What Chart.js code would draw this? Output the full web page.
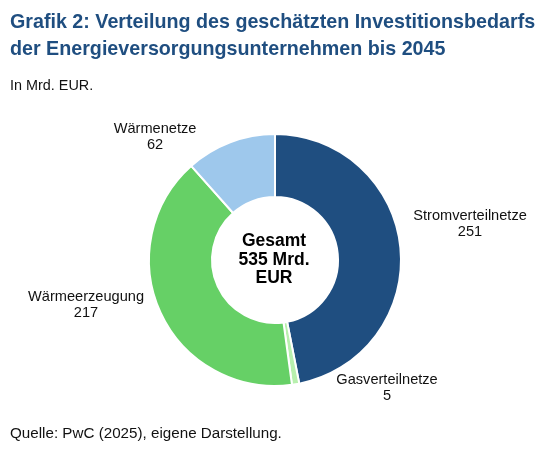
<!DOCTYPE html>
<html>
<head>
<meta charset="utf-8">
<script src="https://cdn.jsdelivr.net/npm/chart.js@4"></script>
<style>
  body { margin: 0; background: #fff; font-family: "Liberation Sans", Arial, sans-serif; }
  #wrap { position: relative; width: 548px; height: 453px; }
  #titel { position: absolute; left: 10px; top: 8px; font-size: 19.7px; font-weight: bold; color: #1f4e80; line-height: 27px; white-space: nowrap; }
  #einheit { position: absolute; left: 10px; top: 77px; font-size: 14.4px; color: #111; }
  #quelle { position: absolute; left: 10px; top: 424px; font-size: 15.2px; color: #111; white-space: nowrap; }
  canvas { position: absolute; left: 0; top: 0; }
</style>
</head>
<body>
<div id="wrap">
  <canvas id="investitionen" width="548" height="453"></canvas>
  <div id="titel">Grafik 2: Verteilung des geschätzten Investitionsbedarfs<br>der Energieversorgungsunternehmen bis 2045</div>
  <div id="einheit">In Mrd. EUR.</div>
  <div id="quelle">Quelle: PwC (2025), eigene Darstellung.</div>
</div>
<script>
// Daten (Mrd. EUR)
const kategorien = ['Stromverteilnetze', 'Gasverteilnetze', 'Wärmeerzeugung', 'Wärmenetze'];
const werte = [251, 5, 217, 62];
const farben = ['#1f4e80', '#b8f0ae', '#66d066', '#9ec8ec'];
const mitteText = ['Gesamt', '535 Mrd.', 'EUR'];

// Position der Beschriftungen relativ zur Mitte, in Radien
const labelOffsets = [[1.548, -0.286], [0.889, 1.012], [-1.50, 0.353], [-0.952, -0.980]];

// Plugin: Beschriftungen aussen und Text in der Mitte
const beschriftungPlugin = {
  id: 'beschriftung',
  afterDraw(chart) {
    const ctx = chart.ctx;
    const arc = chart.getDatasetMeta(0).data[0];
    const cx = arc.x, cy = arc.y, r = arc.outerRadius;
    ctx.save();
    ctx.textAlign = 'center';
    ctx.textBaseline = 'middle';
    ctx.fillStyle = '#111';
    ctx.font = '14.6px "Liberation Sans", Arial, sans-serif';
    kategorien.forEach((name, i) => {
      const x = cx + labelOffsets[i][0] * r;
      const y = cy + labelOffsets[i][1] * r;
      ctx.fillText(name, x, y - 8);
      ctx.fillText(String(werte[i]), x, y + 8.5);
    });
    ctx.font = 'bold 17.5px "Liberation Sans", Arial, sans-serif';
    ctx.fillStyle = '#000';
    mitteText.forEach((t, i) => {
      ctx.fillText(t, cx - 1, cy + (i - 1) * 18.5);
    });
    ctx.restore();
  }
};

var ctxInv = document.getElementById('investitionen').getContext('2d');
var doughnutChart = new Chart(ctxInv, {
  type: 'doughnut',
  data: {
    labels: kategorien,
    datasets: [{
      data: werte,
      backgroundColor: farben,
      borderColor: '#ffffff',
      borderWidth: 2,
    }]
  },
  options: {
    responsive: false,
    animation: false,
    cutout: '50%',
    layout: { padding: { top: 133, bottom: 66, left: 100, right: 98 } },
    plugins: {
      legend: { display: false },
      tooltip: { enabled: false },
    }
  },
  plugins: [beschriftungPlugin]
});
</script>
</body>
</html>
